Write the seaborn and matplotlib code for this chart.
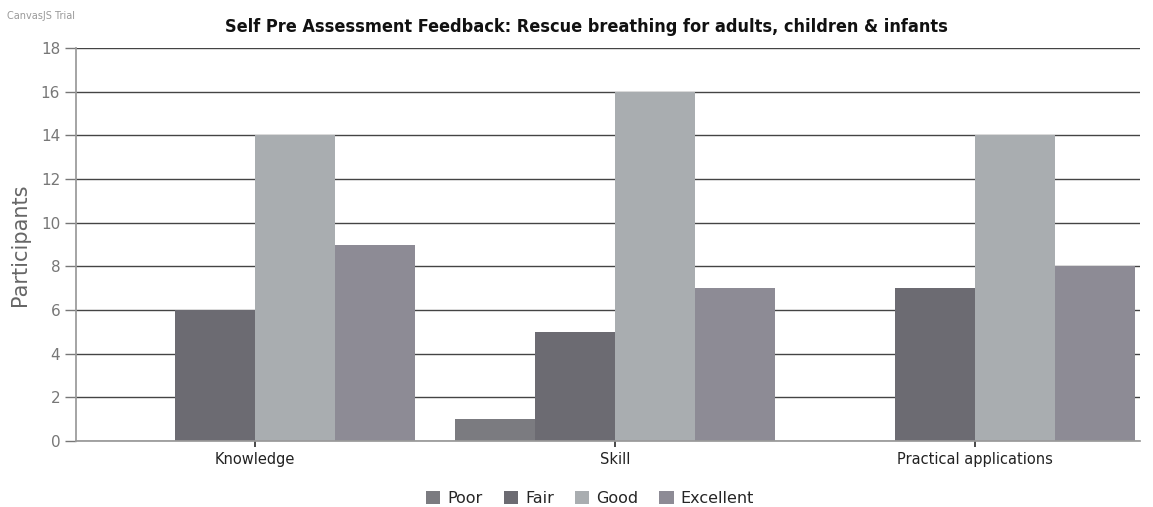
import pandas as pd
import matplotlib.pyplot as plt
import seaborn as sns

# chart values
categories = ['Knowledge', 'Skill', 'Practical applications']
ratings = ['Poor', 'Fair', 'Good', 'Excellent']
poor = [0, 1, 0]
fair = [6, 5, 7]
good = [14, 16, 14]
excellent = [9, 7, 8]
y_ticks = [0, 2, 4, 6, 8, 10, 12, 14, 16, 18]

palette = ['#7b7b80', '#6c6b72', '#a9adb0', '#8d8b95']

df = pd.DataFrame({
    'category': categories * 4,
    'rating': [r for r in ratings for _ in categories],
    'participants': poor + fair + good + excellent,
})

sns.set_theme(style='white')
plt.rcParams['font.family'] = ['DejaVu Sans']

fig = plt.figure(figsize=(11.53, 5.07), dpi=100)
ax = fig.add_axes([0.066, 0.130, 0.923, 0.775])

sns.barplot(data=df, x='category', y='participants', hue='rating',
            hue_order=ratings, order=categories, palette=palette,
            width=0.89, saturation=1, linewidth=0, ax=ax, legend=True)

ax.set_xlim(-0.497, 2.46)
ax.set_ylim(0, 18)
ax.set_yticks(y_ticks)
ax.grid(axis='y', color='#444444', linewidth=1.0)
ax.set_axisbelow(True)
for side in ['top', 'right']:
    ax.spines[side].set_visible(False)
ax.spines['left'].set_color('#999999')
ax.spines['bottom'].set_color('#999999')
ax.tick_params(axis='y', colors='#777777', labelsize=11, length=8, width=1, left=True)
ax.tick_params(axis='x', colors='#333333', labelsize=10.5, length=4, bottom=True)
for lbl in ax.get_xticklabels():
    lbl.set_color('#222222')
ax.set_xlabel('')
ax.set_ylabel('Participants', fontsize=15, color='#666666', labelpad=8)

ax.legend(loc='upper center', bbox_to_anchor=(0.483, -0.09), ncol=4, frameon=False,
          fontsize=11.5, handlelength=0.9, handleheight=0.9, handletextpad=0.45,
          columnspacing=1.3)

fig.text(0.509, 0.947, 'Self Pre Assessment Feedback: Rescue breathing for adults, children & infants',
         ha='center', va='center', fontsize=13, fontweight='bold', fontstretch='condensed',
         family=['DejaVu Sans'], color='#111111')
fig.text(0.006, 0.968, 'CanvasJS Trial', fontsize=7, color='#999999', va='center')

fig.savefig('out.png', dpi=100)
